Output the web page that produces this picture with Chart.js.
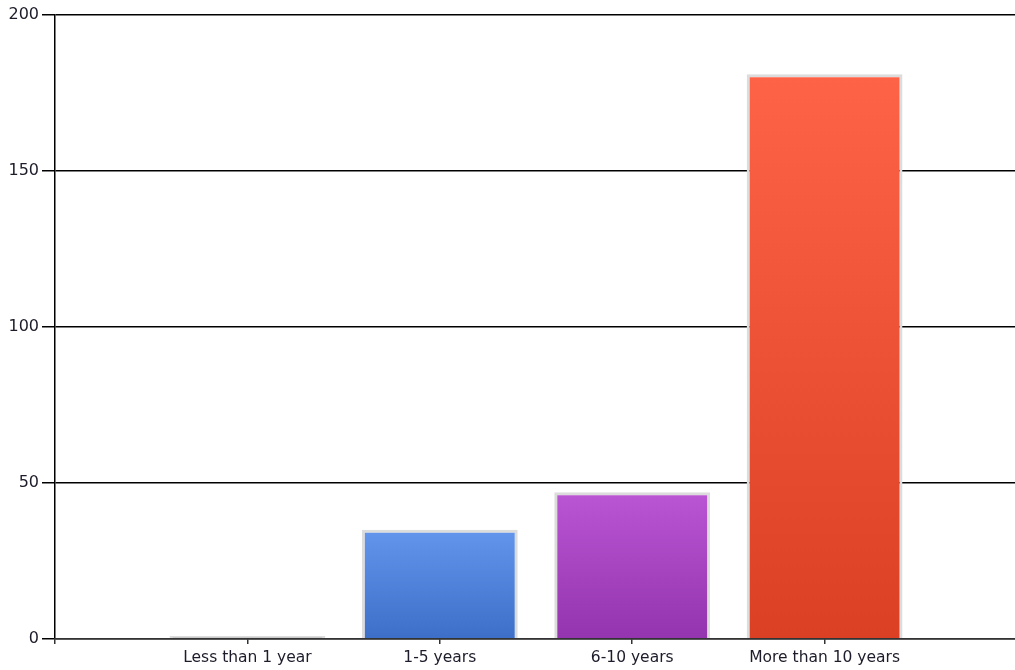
<!DOCTYPE html>
<html>
<head>
<meta charset="utf-8">
<script src="https://cdn.jsdelivr.net/npm/chart.js@4.4.1/dist/chart.umd.min.js"></script>
<style>
  html, body { margin:0; padding:0; background:#fff; overflow:hidden; }
  #wrap { width:1022px; height:670px; }
</style>
</head>
<body>
<div id="wrap"><canvas id="barChart"></canvas></div>
<script>
// Datos
const categories = ['Less than 1 year', '1-5 years', '6-10 years', 'More than 10 years'];
const values = [0, 35, 47, 181];
const yTicks = [0, 50, 100, 150, 200];
const topColors = ['#bdbdbd', '#6495ED', '#BA55D3', '#FF6347'];
const bottomColors = ['#bdbdbd', '#3E6FC8', '#9434AE', '#DB4024'];

// empty slots at both ends, like the original axis
const labels = [''].concat(categories, ['']);
const data = [null].concat(values, [null]);

function barFill(ctx){
  const i = ctx.dataIndex - 1;
  if (i < 0 || i >= categories.length) return 'transparent';
  const chart = ctx.chart;
  if (!chart.chartArea) return topColors[i];
  const y = chart.scales.y;
  const top = y.getPixelForValue(values[i]);
  const bottom = y.getPixelForValue(0);
  if (bottom - top < 1) return topColors[i];
  const g = chart.ctx.createLinearGradient(0, top, 0, bottom);
  g.addColorStop(0, topColors[i]);
  g.addColorStop(1, bottomColors[i]);
  return g;
}

const ctxBar = document.getElementById('barChart').getContext('2d');
const barChart = new Chart(ctxBar, {
  type:'bar',
  data:{
    labels:labels,
    datasets:[{
      data:data,
      backgroundColor:barFill,
      borderColor:'#dcdcdc',
      borderWidth:3,
      borderSkipped:'bottom',
      minBarLength:3,
      barPercentage:0.81,
      categoryPercentage:1
    }]
  },
  options:{
    responsive:true,
    maintainAspectRatio:false,
    animation:false,
    layout:{padding:{top:15, right:0, left:0, bottom:0}},
    plugins:{legend:{display:false}, tooltip:{enabled:false}},
    scales:{
      x:{
        offset:false,
        grid:{offset:false, drawOnChartArea:false, drawTicks:true, tickLength:5, color:'#333', lineWidth:1.5},
        border:{color:'#333', width:1.5, z:1},
        ticks:{color:'#1c1c2a', font:{family:'DejaVu Sans', size:15.5}, padding:5, maxRotation:0, autoSkip:false},
        afterFit:s => { s.height = 31; }
      },
      y:{
        min:0, max:200,
        afterBuildTicks:s => { s.ticks = yTicks.map(v => ({value:v})); },
        grid:{color:'#000', lineWidth:1.5, tickLength:13},
        border:{color:'#000', width:1.5},
        ticks:{color:'#1c1c2a', font:{family:'DejaVu Sans', size:16}, padding:3},
        afterFit:s => { s.width = 55; }
      }
    }
  }
});
</script>
</body>
</html>
